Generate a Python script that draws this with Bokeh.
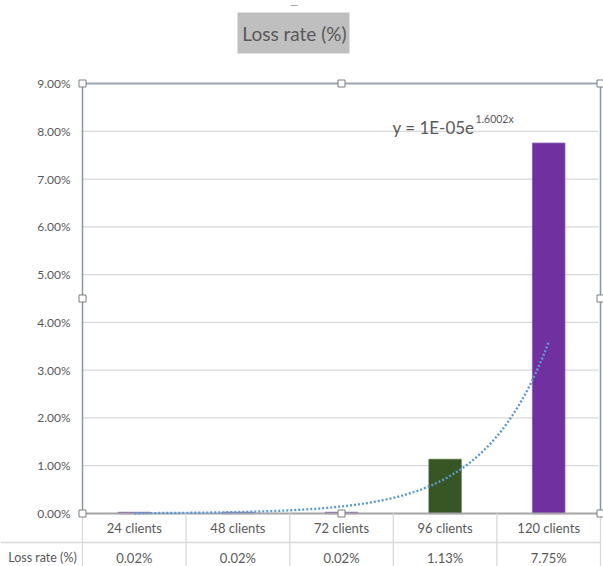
import numpy as np
from bokeh.plotting import figure
from bokeh.models import Range1d, ColumnDataSource
from bokeh.core.properties import value
from bokeh.embed import file_html
from bokeh.resources import INLINE

# ---- data ----
categories = ["24 clients", "48 clients", "72 clients", "96 clients", "120 clients"]
loss_rate = [0.02, 0.02, 0.02, 1.13, 7.75]          # percent
bar_colors = ["#7030A0", "#7030A0", "#7030A0", "#375623", "#7030A0"]
y_ticks = [0, 1, 2, 3, 4, 5, 6, 7, 8, 9]
y_tick_labels = ["%.2f%%" % t for t in y_ticks]
value_labels = ["%.2f%%" % v for v in loss_rate]
title_text = "Loss rate (%)"
equation_main = "y = 1E-05e"
equation_sup = "1.6002x"

FONT = value("Lato")
TXT = "#595959"

W, H = 603, 566
# frame geometry (pixels)
X0, X1 = 82, 600     # x=0.5 and x=5.5
YB, YT = 513, 83     # 0% and 9%
cw = (X1 - X0) / 5.0
ppu = (YB - YT) / 9.0
x_start = 0.5 - X0 / cw
x_end = 5.5 + (W - X1) / cw
y_end = 9 + YT / ppu
y_start = y_end - H / ppu

def dx(px):
    return x_start + px / cw

def dy(py):
    return y_end - py / ppu

p = figure(width=W, height=H, x_range=Range1d(x_start, x_end), y_range=Range1d(y_start, y_end),
           x_axis_type=None, y_axis_type=None, toolbar_location=None, output_backend="svg",
           min_border=0, outline_line_color=None, background_fill_color="white",
           border_fill_color="white")
p.xgrid.visible = False
p.ygrid.visible = False

xs = list(range(1, len(categories) + 1))

# gridlines
grid_y = y_ticks[1:-1]
p.segment(x0=[0.5] * len(grid_y), x1=[dx(598)] * len(grid_y), y0=grid_y, y1=grid_y,
          line_color="#D9D9D9", line_width=1.3)

# bars
src = ColumnDataSource(dict(x=xs, top=loss_rate, color=bar_colors, cat=categories))
p.vbar(x="x", top="top", width=0.31, bottom=0, fill_color="color", line_color="color",
       line_alpha=0.6, line_width=1.5, source=src)

# top border / left & right frame lines
p.segment(x0=[0.5], x1=[5.5], y0=[9], y1=[9], line_color="#9AA6B6", line_width=2)
p.segment(x0=[0.5, 5.5], x1=[0.5, 5.5], y0=[0, 0], y1=[9, 9], line_color="#8797AC", line_width=1.5)

# bottom axis line
p.segment(x0=[0.5], x1=[dx(598)], y0=[0], y1=[0], line_color="#A6A6A6", line_width=2.2)

# trendline: exponential least-squares fit of the data
coef = np.polyfit(np.array(xs, float), np.log(np.array(loss_rate)), 1)
tx = np.linspace(1, 5, 200)
ty = np.exp(coef[1]) * np.exp(coef[0] * tx)
p.line(tx, ty, line_color="#5B9BD5", line_width=2.4, line_dash="2 2")

# y tick labels
p.text(x=[dx(70)] * len(y_ticks), y=y_ticks, text=y_tick_labels, text_font=FONT,
       text_font_size="12px", text_color=TXT, text_align="right", text_baseline="middle")

# data table
p.segment(x0=[0.5 + i for i in range(6)], x1=[0.5 + i for i in range(6)],
          y0=[0] * 6, y1=[dy(566)] * 6, line_color="#D9D9D9", line_width=1.3)
p.segment(x0=[dx(0)], x1=[5.5], y0=[dy(542)], y1=[dy(542)], line_color="#D9D9D9", line_width=1.3)
p.text(x=xs, y=[dy(527)] * 5, text=categories, text_font=FONT, text_font_size="13px",
       text_color=TXT, text_align="center", text_baseline="middle")
p.text(x=xs, y=[dy(557)] * 5, text=value_labels, text_font=FONT, text_font_size="13px",
       text_color=TXT, text_align="center", text_baseline="middle")
p.text(x=[dx(42)], y=[dy(557)], text=["Loss rate (%)"], text_font=FONT, text_font_size="12.5px",
       text_color=TXT, text_align="center", text_baseline="middle")

# selection handles
hx = [0.5, 3, 5.5, 0.5, 5.5, 0.5, 3, 5.5]
hy = [9, 9, 9, 4.5, 4.5, 0, 0, 0]
p.scatter(hx, hy, marker="square", size=7, fill_color="white", line_color="#7F7F7F", line_width=1)

# title
p.quad(left=[dx(237)], right=[dx(349)], top=[dy(12)], bottom=[dy(53)], fill_color="#BFBFBF",
       line_color=None)
p.text(x=[dx(294)], y=[dy(33)], text=[title_text], text_font=FONT, text_font_size="19px",
       text_color=TXT, text_align="center", text_baseline="middle")
p.segment(x0=[dx(290)], x1=[dx(297)], y0=[dy(5)], y1=[dy(5)], line_color="#A6A6A6", line_width=1)

# trendline equation
p.text(x=[dx(474)], y=[dy(127)], text=[equation_main], text_font=FONT, text_font_size="17px",
       text_color=TXT, text_align="right", text_baseline="alphabetic")
p.text(x=[dx(475)], y=[dy(118)], text=[equation_sup], text_font=FONT, text_font_size="10.5px",
       text_color=TXT, text_align="left", text_baseline="alphabetic")

open("out.html", "w").write(file_html(p, INLINE))
